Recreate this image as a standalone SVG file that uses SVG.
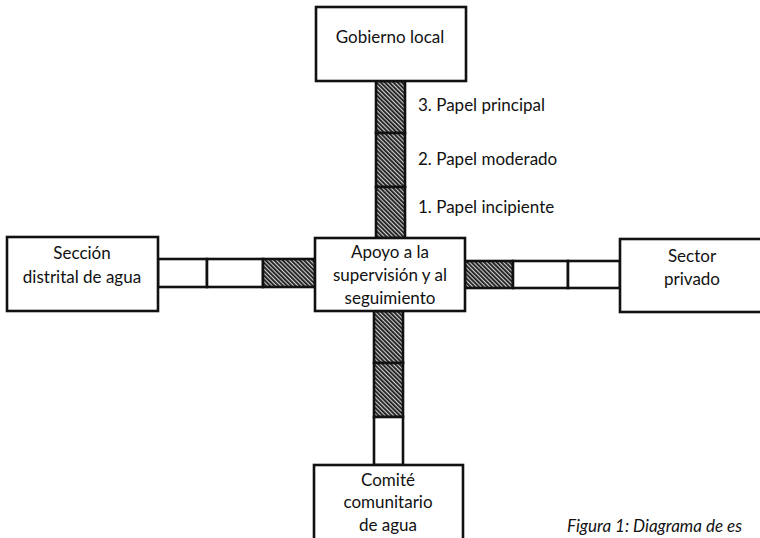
<svg xmlns="http://www.w3.org/2000/svg" width="760" height="538" viewBox="0 0 760 538">
<defs>
<pattern id="hatch" width="3" height="3" patternUnits="userSpaceOnUse" patternTransform="rotate(-45)">
<rect width="3" height="3" fill="#cfcfcf"/>
<rect width="1.8" height="3" fill="#1a1a1a"/>
</pattern>
</defs>
<style>
.box{fill:#fff;stroke:#111;stroke-width:2.6}
.seg{fill:#fff;stroke:#111;stroke-width:2.6}
.hat{fill:url(#hatch);stroke:#111;stroke-width:2.6}
text{font-family:Lato,"Open Sans","Liberation Sans",sans-serif;font-size:17px;fill:#111}
.c{text-anchor:middle}
.cap{font-style:italic}
</style>
<rect width="760" height="538" fill="#fff"/>
<g id="connectors">
<g id="bar-top">
<rect class="hat" x="376" y="81" width="29" height="52"/>
<rect class="hat" x="376" y="133" width="29" height="54"/>
<rect class="hat" x="376" y="187" width="29" height="51"/>
</g>
<g id="bar-bottom">
<rect class="hat" x="374" y="311" width="29" height="52"/>
<rect class="hat" x="374" y="363" width="29" height="54"/>
<rect class="seg" x="374" y="417" width="29" height="48"/>
</g>
<g id="bar-left">
<rect class="seg" x="158" y="259" width="49" height="28"/>
<rect class="seg" x="207" y="259" width="56" height="28"/>
<rect class="hat" x="263" y="259" width="52" height="28"/>
</g>
<g id="bar-right">
<rect class="hat" x="465" y="261" width="48" height="27"/>
<rect class="seg" x="513" y="261" width="55" height="27"/>
<rect class="seg" x="568" y="261" width="52" height="27"/>
</g>
<g id="levels">
<text x="418" y="111">3. Papel principal</text>
<text x="418" y="165">2. Papel moderado</text>
<text x="418" y="213">1. Papel incipiente</text>
</g>
</g>
<g id="gobierno-local">
<rect class="box" x="316" y="7" width="150" height="74"/>
<text class="c" x="390" y="43">Gobierno local</text>
</g>
<g id="apoyo">
<rect class="box" x="315" y="238" width="150" height="73"/>
<text class="c" x="390" y="258">Apoyo a la</text>
<text class="c" x="390" y="281">supervisión y al</text>
<text class="c" x="390" y="304">seguimiento</text>
</g>
<g id="seccion-distrital">
<rect class="box" x="7" y="237" width="151" height="74"/>
<text class="c" x="82" y="259">Sección</text>
<text class="c" x="82" y="283">distrital de agua</text>
</g>
<g id="sector-privado">
<rect class="box" x="620" y="239" width="146" height="73"/>
<text class="c" x="692" y="262">Sector</text>
<text class="c" x="692" y="285">privado</text>
</g>
<g id="comite">
<rect class="box" x="314" y="465" width="149" height="80"/>
<text class="c" x="388" y="486">Comité</text>
<text class="c" x="388" y="508">comunitario</text>
<text class="c" x="388" y="531">de agua</text>
</g>
<text class="cap" x="567" y="532" font-size="16">Figura 1: Diagrama de es</text>
</svg>
